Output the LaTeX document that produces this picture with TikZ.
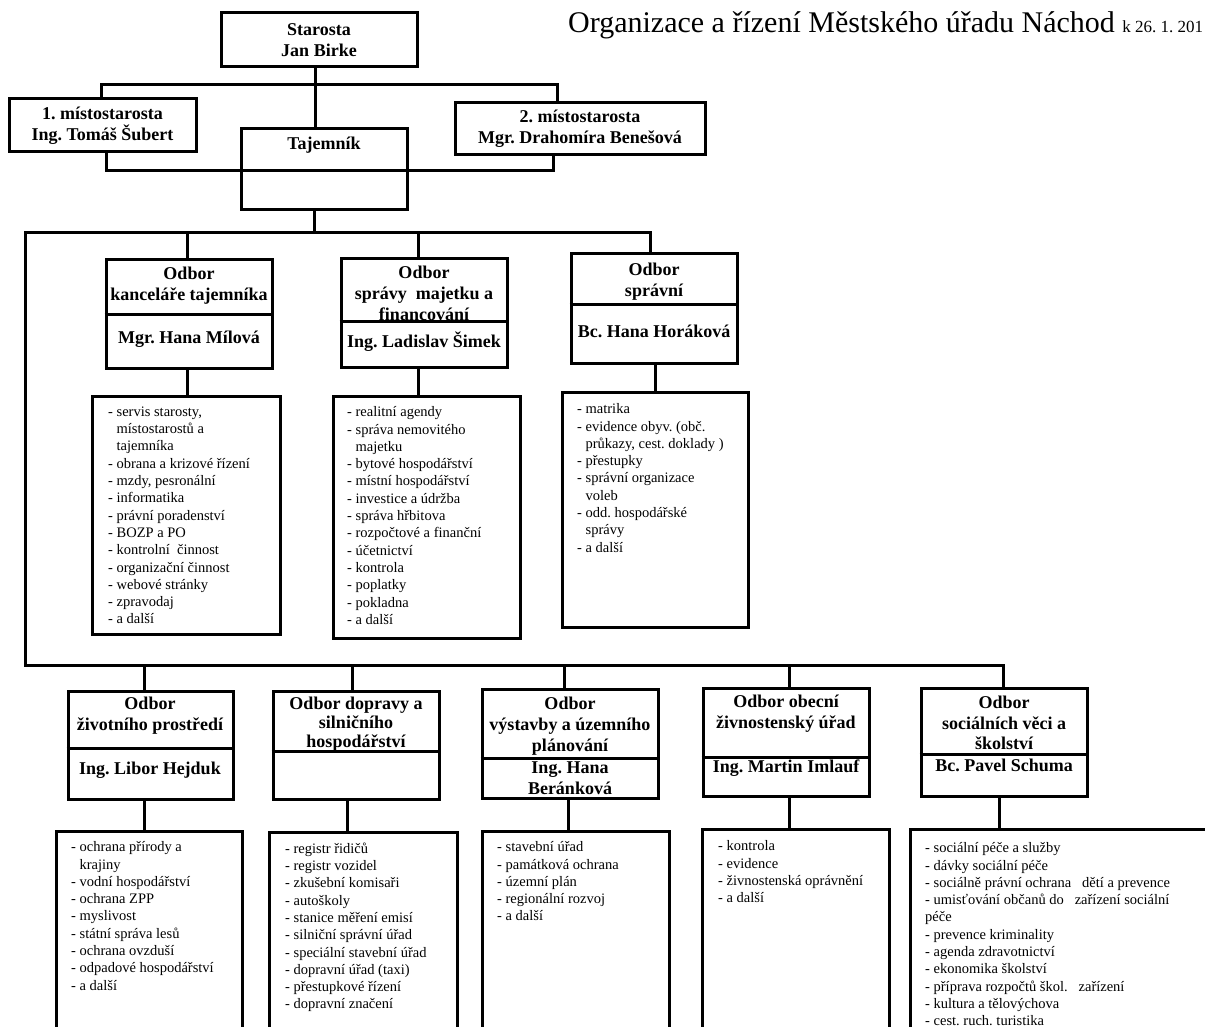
\documentclass[tikz,border=0pt]{standalone}
\usepackage{fontspec}
\setmainfont{Liberation Serif}
\usetikzlibrary{fit}
\frenchspacing

\begin{document}
\begin{tikzpicture}[
  x=1pt, y=-1pt,
  box/.style={draw, line width=3pt, inner sep=0pt},
  head/.style={font=\bfseries\fontsize{18}{21}\selectfont, align=center, inner sep=0pt, anchor=north},
  duties/.style={font=\fontsize{14.5}{17.3}\selectfont, align=left, inner sep=0pt, anchor=north west},
  link/.style={draw, line width=3pt},
  rule/.style={draw, line width=3pt},
]
  \useasboundingbox (0,0) rectangle (1205,1027);

  % Title
  \node[anchor=base west, inner sep=0pt] (title) at (568,33) {\fontsize{30}{36}\selectfont Organizace a řízení Městského úřadu Náchod {\fontsize{17}{20}\selectfont k 26. 1. 201}};

  % Vedeni
  \node[box, fit={(221,13) (417,67)}] (starosta) {};
  \node[head, anchor=center] (starostaT) at (starosta.center) {Starosta\\Jan Birke};
  \node[box, fit={(9,99) (196,152)}] (mist1) {};
  \node[head, anchor=center] (mist1T) at (mist1.center) {1. místostarosta\\Ing. Tomáš Šubert};
  \node[box, fit={(455,103) (705,155)}] (mist2) {};
  \node[head, anchor=center] (mist2T) at (mist2.center) {2. místostarosta\\Mgr. Drahomíra Benešová};
  \node[box, fit={(241,129) (407,210)}] (tajemnik) {};
  \node[head] (tajemnikT) at (324,137) {Tajemník};

  % Odbory - horni rada
  \node[box, fit={(106,260) (272,368)}] (kanc) {};
  \node[head] (kancT) at (189,267) {Odbor\\kanceláře tajemníka};
  \draw[rule] (kanc.west |- 0,314) -- (kanc.east |- 0,314);
  \node[head] (kancN) at (189,331) {Mgr. Hana Mílová};

  \node[box, fit={(341,259) (507,367)}] (majetek) {};
  \node[head] (majetekT) at (424,266) {Odbor\\správy\ \ majetku a\\financování};
  \draw[rule] (majetek.west |- 0,321) -- (majetek.east |- 0,321);
  \node[head] (majetekN) at (424,332) {Ing. Ladislav Šimek};

  \node[box, fit={(571,254) (737,363)}] (spravni) {};
  \node[head] (spravniT) at (654,263) {Odbor\\správní};
  \draw[rule] (spravni.west |- 0,304) -- (spravni.east |- 0,304);
  \node[head] (spravniN) at (654,325) {Bc. Hana Horáková};

  % Agendy - horni rada
  \node[box, fit={(92,396) (280,634)}] (kancA) {};
  \node[duties] (kancL) at (108,406.5) {- servis starosty,\\\hphantom{- }místostarostů a\\\hphantom{- }tajemníka\\- obrana a krizové řízení\\- mzdy, pesronální\\- informatika\\- právní poradenství\\- BOZP a PO\\- kontrolní\ \ činnost\\- organizační činnost\\- webové stránky\\- zpravodaj\\- a další};
  \node[box, fit={(333,396) (520,638)}] (majetekA) {};
  \node[duties] (majetekL) at (347,406.5) {- realitní agendy\\- správa nemovitého\\\hphantom{- }majetku\\- bytové hospodářství\\- místní hospodářství\\- investice a údržba\\- správa hřbitova\\- rozpočtové a finanční\\- účetnictví\\- kontrola\\- poplatky\\- pokladna\\- a další};
  \node[box, fit={(562,392) (748,627)}] (spravniA) {};
  \node[duties] (spravniL) at (577,403.5) {- matrika\\- evidence obyv. (obč.\\\hphantom{- }průkazy, cest. doklady )\\- přestupky\\- správní organizace\\\hphantom{- }voleb\\- odd. hospodářské\\\hphantom{- }správy\\- a další};

  % Odbory - dolni rada
  \node[box, fit={(68,691) (233,799)}] (zivot) {};
  \node[head] (zivotT) at (150,697) {Odbor\\životního prostředí};
  \draw[rule] (zivot.west |- 0,748) -- (zivot.east |- 0,748);
  \node[head] (zivotN) at (150,762) {Ing. Libor Hejduk};

  \node[box, fit={(273,691) (439,799)}] (doprava) {};
  \node[head, font=\bfseries\fontsize{18}{19}\selectfont] (dopravaT) at (356,697) {Odbor dopravy a\\silničního\\hospodářství};
  \draw[rule] (doprava.west |- 0,751) -- (doprava.east |- 0,751);

  \node[box, fit={(482,689) (658,798)}] (vystavba) {};
  \node[head] (vystavbaT) at (570,697) {Odbor\\výstavby a územního\\plánování};
  \draw[rule] (vystavba.west |- 0,758) -- (vystavba.east |- 0,758);
  \node[head] (vystavbaN) at (570,762) {Ing. Hana\\Beránková};

  \node[box, fit={(703,688) (869,796)}] (zivnost) {};
  \node[head] (zivnostT) at (786,695) {Odbor obecní\\živnostenský úřad};
  \draw[rule] (zivnost.west |- 0,757) -- (zivnost.east |- 0,757);
  \node[head] (zivnostN) at (786,760) {Ing. Martin Imlauf};

  \node[box, fit={(921,688) (1087,796)}] (socialni) {};
  \node[head, font=\bfseries\fontsize{18}{20.5}\selectfont] (socialniT) at (1004,696) {Odbor\\sociálních věci a\\školství};
  \draw[rule] (socialni.west |- 0,754) -- (socialni.east |- 0,754);
  \node[head] (socialniN) at (1004,759) {Bc. Pavel Schuma};

  % Agendy - dolni rada
  \node[box, fit={(56,831) (242,1045)}] (zivotA) {};
  \node[duties] (zivotL) at (71,841.5) {- ochrana přírody a\\\hphantom{- }krajiny\\- vodní hospodářství\\- ochrana ZPP\\- myslivost\\- státní správa lesů\\- ochrana ovzduší\\- odpadové hospodářství\\- a další};
  \node[box, fit={(269,832) (457,1045)}] (dopravaA) {};
  \node[duties] (dopravaL) at (285,842.5) {- registr řidičů\\- registr vozidel\\- zkušební komisaři\\- autoškoly\\- stanice měření emisí\\- silniční správní úřad\\- speciální stavební úřad\\- dopravní úřad (taxi)\\- přestupkové řízení\\- dopravní značení};
  \node[box, fit={(482,831) (669,1045)}] (vystavbaA) {};
  \node[duties] (vystavbaL) at (497,841.5) {- stavební úřad\\- památková ochrana\\- územní plán\\- regionální rozvoj\\- a další};
  \node[box, fit={(702,829) (889,1045)}] (zivnostA) {};
  \node[duties] (zivnostL) at (718,840.5) {- kontrola\\- evidence\\- živnostenská oprávnění\\- a další};
  \node[box, fit={(910,829) (1230,1045)}] (socialniA) {};
  \node[duties] (socialniL) at (925,842.5) {- sociální péče a služby\\- dávky sociální péče\\- sociálně právní ochrana\ \ \ dětí a prevence\\- umisťování občanů do\ \ \ zařízení sociální\\péče\\- prevence kriminality\\- agenda zdravotnictví\\- ekonomika školství\\- příprava rozpočtů škol.\ \ \ zařízení\\- kultura a tělovýchova\\- cest. ruch. turistika};

  % Spojnice
  \coordinate (barL) at (101,85);
  \coordinate (barR) at (557,85);
  \coordinate (midL) at (106,171);
  \coordinate (midR) at (553,171);
  \coordinate (busL) at (25,233);
  \coordinate (busR) at (650,233);
  \coordinate (lowL) at (25,665);
  \coordinate (lowR) at (1003,665);

  \draw[link] (starosta.south -| 315,0) -- (tajemnik.north -| 315,0);
  \draw[link] (mist1.north -| barL) -- (barL) -- (barR) -- (mist2.north -| barR);
  \draw[link] (mist1.south -| midL) -- (midL) -- (tajemnik.west |- midL);
  \draw[link] (mist2.south -| midR) -- (midR) -- (tajemnik.east |- midR);
  \draw[rule] (tajemnik.west |- midL) -- (tajemnik.east |- midL);

  \draw[link] (tajemnik.south -| 314,0) -- (314,233);
  \draw[link] (spravni.north -| busR) -- (busR) -- (busL) -- (lowL) -- (lowR) -- (socialni.north -| lowR);
  \draw[link] (kanc.north -| 187,0) -- (187,233);
  \draw[link] (majetek.north -| 418,0) -- (418,233);
  \draw[link] (zivot.north -| 144,0) -- (144,665);
  \draw[link] (doprava.north -| 352,0) -- (352,665);
  \draw[link] (vystavba.north -| 564,0) -- (564,665);
  \draw[link] (zivnost.north -| 789,0) -- (789,665);

  \draw[link] (kanc.south -| 187,0) -- (kancA.north -| 187,0);
  \draw[link] (majetek.south -| 418,0) -- (majetekA.north -| 418,0);
  \draw[link] (spravni.south -| 655,0) -- (spravniA.north -| 655,0);
  \draw[link] (zivot.south -| 144,0) -- (zivotA.north -| 144,0);
  \draw[link] (doprava.south -| 347,0) -- (dopravaA.north -| 347,0);
  \draw[link] (vystavba.south -| 568,0) -- (vystavbaA.north -| 568,0);
  \draw[link] (zivnost.south -| 789,0) -- (zivnostA.north -| 789,0);
  \draw[link] (socialni.south -| 999,0) -- (socialniA.north -| 999,0);
\end{tikzpicture}
\end{document}
